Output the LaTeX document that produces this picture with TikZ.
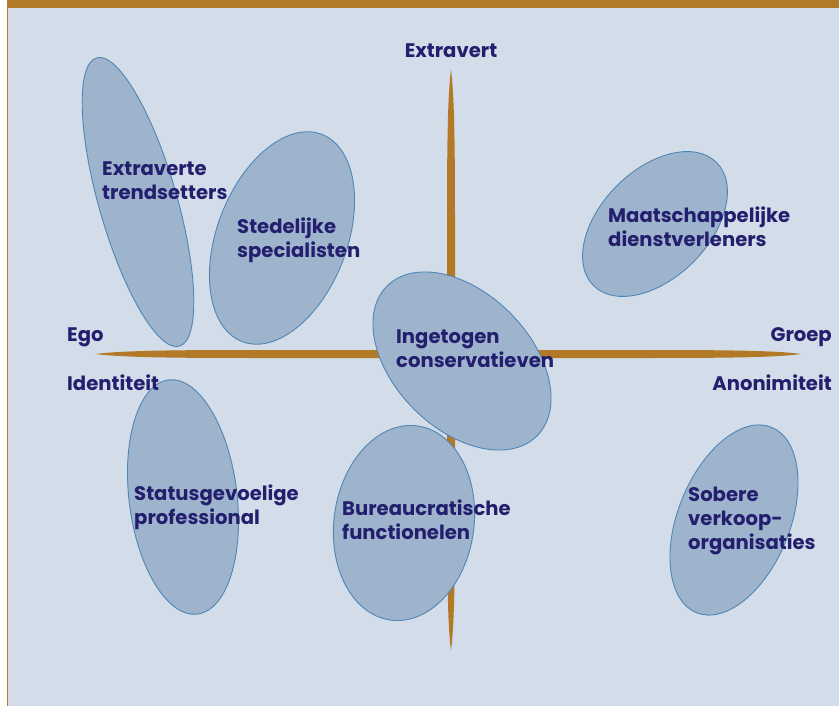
\documentclass[tikz,border=0pt]{standalone}
\usepackage{fontspec}
\setmainfont{Poppins}
\definecolor{bg}{HTML}{D3DDE9}
\definecolor{brown}{HTML}{B27A27}
\definecolor{blobfill}{HTML}{9EB4CD}
\definecolor{blobline}{HTML}{4F86B4}
\definecolor{ink}{HTML}{231F6E}
\tikzset{
  blob/.style={fill=blobfill, draw=blobline, line width=0.9pt},
  axisbar/.style={fill=brown, draw=none},
  lbl/.style={font=\fontsize{19.6}{24}\selectfont\bfseries, text=ink, align=left, inner sep=0pt},
}
\begin{document}
\begin{tikzpicture}[x=1pt,y=-1pt]
\useasboundingbox (0,0) rectangle (839,706);
% frame
\fill[white] (0,0) rectangle (839,706);
\fill[bg] (8.3,8) rectangle (839,706);
\fill[brown] (7,0) rectangle (839,8);
\fill[brown] (7,0) rectangle (8.3,706);

% axes
\fill[axisbar] (95,354) .. controls (120,351) and (160,350) .. (250,350) -- (650,350)
  .. controls (740,350) and (780,351) .. (801,354)
  .. controls (780,357) and (740,358) .. (650,358) -- (250,358)
  .. controls (160,358) and (120,357) .. (95,354) -- cycle;
\fill[axisbar] (451,69) .. controls (448,94) and (447,134) .. (447,220) -- (447,500)
  .. controls (447,590) and (448,626) .. (451,651)
  .. controls (454,626) and (455,590) .. (455,500) -- (455,220)
  .. controls (455,134) and (454,94) .. (451,69) -- cycle;

% segments
\draw[blob, rotate around={16:(138,202)}] (138,202) ellipse [x radius=39, y radius=150];
\draw[blob, rotate around={-21:(282,238)}] (282,238) ellipse [x radius=65, y radius=111];
\draw[blob, rotate around={45:(655,224)}] (655,224) ellipse [x radius=87, y radius=54];
\draw[blob, rotate around={7:(183,497)}] (183,497) ellipse [x radius=54, y radius=118];
\draw[blob, rotate around={-8:(404,523)}] (404,523) ellipse [x radius=70, y radius=98];
\draw[blob, rotate around={-45:(462,361)}] (462,361) ellipse [x radius=106, y radius=68];
\draw[blob, rotate around={-22:(734,520)}] (734,520) ellipse [x radius=56, y radius=100];

% axis labels
\node[lbl, anchor=center] (extravert) at (451,51) {Extravert};
\node[lbl, anchor=west] (ego) at (67,337) {Ego};
\node[lbl, anchor=west] (identiteit) at (67,383) {Identiteit};
\node[lbl, anchor=east] (groep) at (832,337) {Groep};
\node[lbl, anchor=east] (anonimiteit) at (832,383) {Anonimiteit};

% segment labels
\node[lbl, anchor=west] (trend) at (102,181) {Extraverte\\trendsetters};
\node[lbl, anchor=west] (sted) at (237,240) {Stedelijke\\specialisten};
\node[lbl, anchor=west] (maat) at (608,227) {Maatschappelijke\\dienstverleners};
\node[lbl, anchor=west] (inget) at (396,349) {Ingetogen\\conservatieven};
\node[lbl, anchor=west] (status) at (134,507) {Statusgevoelige\\professional};
\node[lbl, anchor=west] (bureau) at (342,520) {Bureaucratische\\functionelen};
\node[lbl, anchor=west] (sober) at (688,521) {Sobere\\verkoop-\\organisaties};
\end{tikzpicture}
\end{document}
